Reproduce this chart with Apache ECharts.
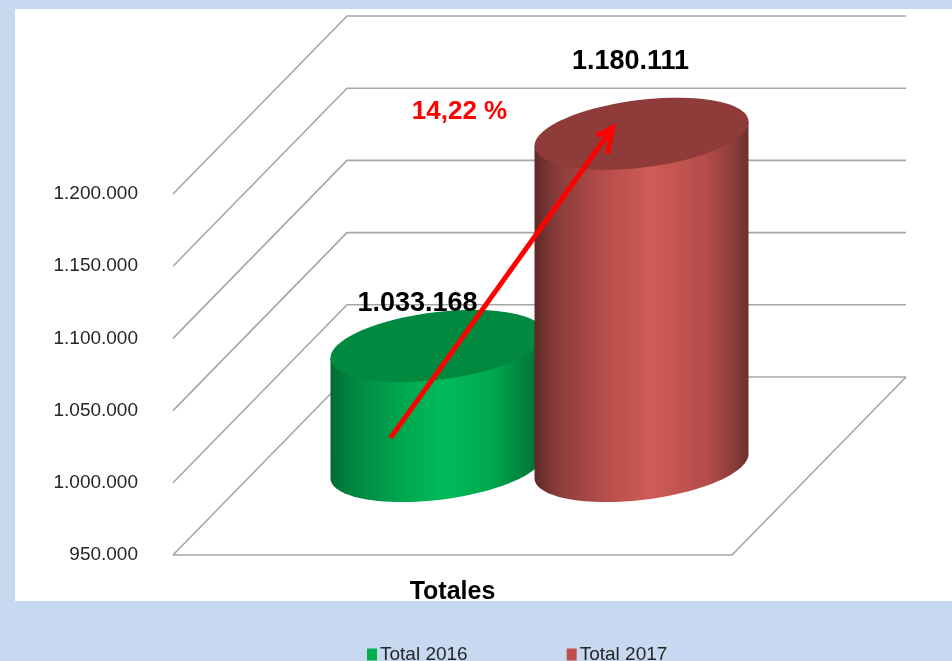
<!DOCTYPE html>
<html>
<head>
<meta charset="utf-8">
<style>html,body{margin:0;padding:0;background:#c6d9f1}#c{width:952px;height:661px}</style>
<script src="https://cdn.jsdelivr.net/npm/echarts@6/dist/echarts.min.js"></script>
</head>
<body>
<div id="c"></div>
<script>
var categories = ['Totales'];
var seriesNames = ['Total 2016', 'Total 2017'];
var total2016 = [1033168];
var total2017 = [1180111];
var yTicks = [950000, 1000000, 1050000, 1100000, 1150000, 1200000];
var changeLabel = '14,22 %';

var FONT = '"Liberation Sans Narrow","Arial Narrow",sans-serif';
var DEPTH_X = 174, DEPTH_Y = 178;
var RX = 107, RB = 34, SHEAR = 12;

function fmt(v) { return String(v).replace(/\B(?=(\d{3})+(?!\d))/g, '.'); }

function ellPt(cx, cy, t) {
  return [cx + RX * Math.cos(t), cy + RB * Math.sin(t) - SHEAR * Math.cos(t)];
}
function ellipse(cx, cy) {
  var p = [];
  for (var i = 0; i < 96; i++) p.push(ellPt(cx, cy, i / 96 * Math.PI * 2));
  return p;
}
function body(cx, topY, botY) {
  var p = [ellPt(cx, topY, Math.PI)];
  for (var i = 0; i <= 48; i++) p.push(ellPt(cx, botY, Math.PI - i / 48 * Math.PI));
  p.push(ellPt(cx, topY, 0));
  return p;
}
function cylCentre(api, idx, value) {
  var base = api.coord([0, yTicks[0]]);
  var top = api.coord([0, value]);
  var band = api.size([1, 0])[0];
  var mid = base[0] + DEPTH_X / 2;
  // two cylinders side by side on the mid-depth line, overlapping slightly
  var cx = mid + (idx === 0 ? -1 : 1) * band * 0.1825;
  return { cx: cx, topY: top[1] - DEPTH_Y / 2, botY: base[1] - DEPTH_Y / 2 };
}
function grad(stops) {
  return { type: 'linear', x: 0, y: 0, x2: 1, y2: 0, colorStops: stops };
}
var looks = [
  { top: '#00893f', side: grad([
      { offset: 0, color: '#006b33' }, { offset: 0.12, color: '#008a42' },
      { offset: 0.35, color: '#00a84f' }, { offset: 0.52, color: '#00bb5a' },
      { offset: 0.75, color: '#00a84f' }, { offset: 1, color: '#006b33' }]),
    swatch: '#00b050', lx: -20, ly: -42 },
  { top: '#8e3b39', side: grad([
      { offset: 0, color: '#5e2927' }, { offset: 0.1, color: '#873c3a' },
      { offset: 0.32, color: '#b54d4a' }, { offset: 0.55, color: '#cf5b56' },
      { offset: 0.8, color: '#b54d4a' }, { offset: 0.93, color: '#8a3d3b' }, { offset: 1, color: '#6e302e' }]),
    swatch: '#c0504d', lx: -11, ly: -72 }
];

function cylinderSeries(name, values, idx) {
  return {
    name: name, type: 'custom', coordinateSystem: 'cartesian2d', z: 3 + idx,
    itemStyle: { color: looks[idx].swatch },
    data: values.map(function (v, i) { return [i, v]; }),
    encode: { x: 0, y: 1 },
    renderItem: function (params, api) {
      var c = cylCentre(api, idx, api.value(1));
      return { type: 'group', children: [
        { type: 'polygon', shape: { points: body(c.cx, c.topY, c.botY) }, style: { fill: looks[idx].side } },
        { type: 'polygon', shape: { points: ellipse(c.cx, c.topY) }, style: { fill: looks[idx].top } }
      ] };
    }
  };
}
function labelSeries(values, idx) {
  return {
    type: 'custom', coordinateSystem: 'cartesian2d', z: 8,
    data: values.map(function (v, i) { return [i, v]; }),
    encode: { x: 0, y: 1 },
    renderItem: function (params, api) {
      var v = api.value(1), c = cylCentre(api, idx, v);
      return { type: 'text', style: {
        x: c.cx + looks[idx].lx, y: c.topY + looks[idx].ly, text: fmt(v),
        align: 'center', verticalAlign: 'middle', fill: '#000',
        font: 'bold 27px ' + FONT } };
    }
  };
}

var option = {
  animation: false,
  backgroundColor: '#c6d9f1',
  graphic: [{ type: 'rect', z: -10, silent: true,
    shape: { x: 15, y: 9, width: 937, height: 592 }, style: { fill: '#fff' } }],
  grid: { left: 173, top: 194, width: 559, height: 361 },
  xAxis: { type: 'category', data: categories,
    axisLine: { show: false }, axisTick: { show: false }, splitLine: { show: false },
    axisLabel: { margin: 25, color: '#000', fontFamily: FONT, fontWeight: 'bold', fontSize: 25 } },
  yAxis: { type: 'value', min: yTicks[0], max: yTicks[yTicks.length - 1], interval: 50000,
    axisLine: { show: false }, axisTick: { show: false }, splitLine: { show: false },
    axisLabel: { margin: 35, color: '#262626', fontFamily: FONT, fontSize: 19, formatter: fmt } },
  legend: { data: seriesNames, left: 362, top: 640, itemWidth: 10, itemHeight: 12, itemGap: 99,
    icon: 'rect', textStyle: { color: '#262626', fontFamily: FONT, fontSize: 19, padding: [0, 0, 0, -2] } },
  series: [
    { type: 'custom', coordinateSystem: 'cartesian2d', z: 1, silent: true,
      data: yTicks.map(function (t) { return [0, t]; }),
      encode: { x: 0, y: 1 },
      renderItem: function (params, api) {
        var y = api.coord([0, api.value(1)])[1];
        var L = 173, R = 732;
        var line = { stroke: '#a6a6a6', lineWidth: 1.6, fill: null };
        var kids = [{ type: 'polyline', style: line, shape: { points:
          [[L, y], [L + DEPTH_X, y - DEPTH_Y], [R + DEPTH_X, y - DEPTH_Y]] } }];
        if (params.dataIndex === 0) {
          kids.push({ type: 'polyline', style: line, shape: { points:
            [[L, y], [R, y], [R + DEPTH_X, y - DEPTH_Y]] } });
        }
        return { type: 'group', children: kids };
      } },
    cylinderSeries(seriesNames[0], total2016, 0),
    cylinderSeries(seriesNames[1], total2017, 1),
    labelSeries(total2016, 0),
    labelSeries(total2017, 1),
    { type: 'custom', coordinateSystem: 'cartesian2d', z: 9, silent: true,
      data: [[0, total2016[0], total2017[0]]],
      encode: { x: 0, y: 1 },
      renderItem: function (params, api) {
        var a = cylCentre(api, 0, api.value(1)), b = cylCentre(api, 1, api.value(2));
        var from = [a.cx - 47, a.topY + 92], to = [b.cx - 29, b.topY - 6];
        var st = { stroke: '#ff0000', lineWidth: 5, fill: null, lineJoin: 'miter' };
        return { type: 'group', children: [
          { type: 'line', shape: { x1: from[0], y1: from[1], x2: to[0] - 2, y2: to[1] + 3 }, style: st },
          { type: 'polyline', shape: { points: [[to[0] - 16, to[1] + 8], to, [to[0] - 5, to[1] + 26]] }, style: st },
          { type: 'text', style: { x: b.cx - 182, y: b.topY - 22, text: changeLabel, align: 'center',
              verticalAlign: 'middle', fill: '#ff0000', font: 'bold 26px ' + FONT } }
        ] };
      } }
  ]
};
echarts.init(document.getElementById('c'), null, { renderer: 'canvas' }).setOption(option);
</script>
</body>
</html>
